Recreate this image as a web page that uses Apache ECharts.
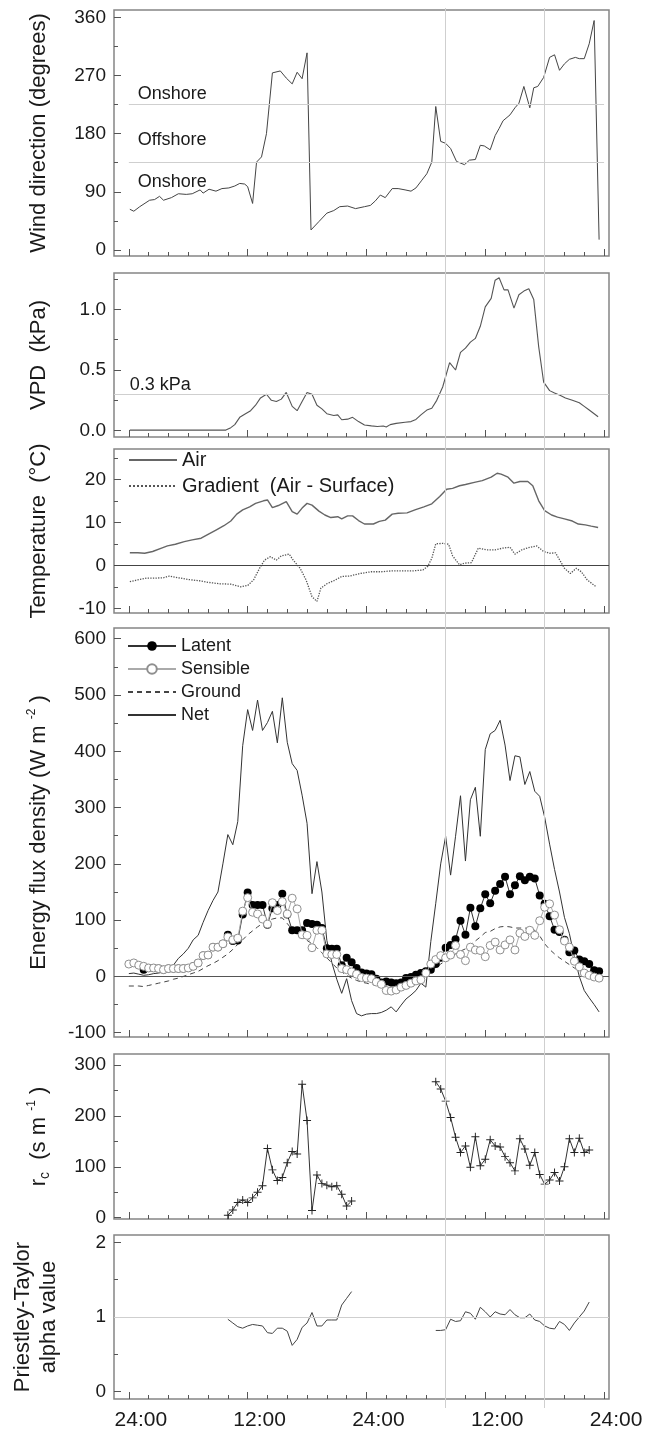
<!DOCTYPE html>
<html><head><meta charset="utf-8">
<script src="https://cdn.jsdelivr.net/npm/echarts@6/dist/echarts.min.js"></script>
<style>html,body{margin:0;padding:0;background:#fff}#c{width:657px;height:1433px}</style>
</head><body><div id="c"></div>
<script>
// ---------------- DATA ----------------
const xTickMajor = [0, 12, 24, 36, 48];
const xTickLabels = ['24:00', '12:00', '24:00', '12:00', '24:00'];
const xTickMinor = [2,4,6,8,10,14,16,18,20,22,26,28,30,32,34,38,40,42,44,46];
const refHours = [32, 42];

// Wind direction (degrees)
const windHours = [0.1,0.5,1.1,2.1,2.6,3.1,3.5,4.3,5.0,5.8,6.4,7.2,7.5,8.1,8.8,9.4,10.1,10.7,11.2,11.7,12.0,12.5,12.9,13.4,13.9,14.5,15.3,15.9,16.5,17.0,17.5,18.0,18.4,19.2,20.0,20.7,21.3,22.1,22.9,23.8,24.4,24.9,25.4,25.9,26.6,27.2,27.9,28.5,29.0,29.6,30.1,30.6,31.0,31.5,32.0,32.5,33.1,33.9,34.4,35.0,35.5,35.9,36.5,37.0,37.4,37.8,38.5,39.0,39.4,39.9,40.5,40.9,41.3,41.9,42.5,43.0,43.5,44.0,44.5,45.1,45.5,46.0,46.5,47.0,47.5];
const windDir = [63,60,67,77,78,83,77,81,87,86,87,93,88,94,91,95,96,99,103,102,98,72,136,144,180,274,277,266,257,275,265,305,31,44,57,61,67,68,64,67,69,76,85,81,95,95,93,91,96,108,118,136,222,168,165,157,137,132,139,140,162,161,155,177,188,200,209,220,227,253,220,251,253,267,298,302,278,288,295,298,296,296,319,355,16];
const windRefLines = [135, 225];
const windNotes = ['Onshore', 'Offshore', 'Onshore'];
const windNoteX = [0.9, 0.9, 0.9];
const windNoteY = [242, 170, 105];

// VPD (kPa)
const vpdHours = [0.1,9.8,10.3,10.7,11.2,11.7,12.3,12.8,13.3,13.9,14.4,14.9,15.4,15.9,16.5,17.0,17.5,18.0,18.5,19.0,19.5,20.0,20.7,21.1,21.5,22.1,22.6,23.2,23.8,24.5,25.1,25.7,26.0,26.4,27.0,27.9,28.5,29.0,29.5,30.1,30.6,31.1,31.7,32.4,33.0,33.5,34.0,34.5,35.0,35.5,36.0,36.6,37.0,37.4,37.9,38.3,38.9,39.4,39.9,40.4,40.9,41.4,41.9,42.5,43.0,43.6,44.1,44.8,45.5,46.0,46.5,47.4];
const vpd = [0.005,0.005,0.025,0.05,0.11,0.135,0.165,0.21,0.27,0.30,0.25,0.24,0.26,0.315,0.20,0.165,0.24,0.315,0.30,0.21,0.18,0.14,0.125,0.13,0.09,0.095,0.11,0.075,0.047,0.04,0.035,0.038,0.03,0.05,0.06,0.07,0.075,0.093,0.13,0.17,0.185,0.25,0.36,0.56,0.50,0.645,0.68,0.73,0.76,0.86,1.02,1.09,1.24,1.26,1.16,1.16,1.01,1.12,1.15,1.17,1.08,0.69,0.40,0.33,0.31,0.29,0.27,0.25,0.23,0.20,0.17,0.115];
const vpdRefLine = 0.3;
const vpdNote = '0.3 kPa';
const vpdNoteX = 0.1;
const vpdNoteY = 0.38;

// Temperature (°C)
const airHours = [0.1,0.9,1.6,2.4,3.3,3.9,4.7,5.6,6.4,7.3,8.0,8.8,9.6,10.3,10.9,11.5,12.2,12.8,13.6,14.0,14.5,15.1,15.9,16.5,17.0,17.5,18.0,18.5,19.2,19.8,20.4,21.1,21.5,22.1,22.6,23.2,23.8,24.7,25.3,25.9,26.6,27.2,28.1,28.9,29.8,30.6,31.4,32.1,32.7,33.4,34.0,34.9,35.7,36.6,37.2,37.6,38.3,38.9,39.5,40.3,40.8,41.4,42.0,42.7,43.3,44.0,44.8,45.4,46.1,46.7,47.4];
const airTemp = [2.9,2.9,2.8,3.2,4.0,4.5,4.9,5.5,5.9,6.3,7.2,8.2,9.2,10.3,11.9,12.9,13.6,14.4,15.0,15.2,13.4,13.9,14.8,12.5,11.9,13.3,14.4,14.0,12.6,11.7,11.1,11.3,10.8,11.5,11.5,10.4,9.6,9.6,10.2,10.5,11.9,12.1,12.2,12.9,13.6,14.3,16.0,17.7,17.9,18.5,18.8,19.3,19.7,20.5,21.4,21.2,20.5,19.1,19.5,19.5,18.5,15.0,12.7,11.7,11.2,10.8,10.3,9.6,9.4,9.1,8.8];
const gradHours = [0.1,0.9,1.8,2.6,3.5,4.1,5.0,6.0,7.1,8.1,9.2,10.3,11.3,12.0,12.6,13.2,13.7,14.3,14.9,15.4,16.2,16.6,17.3,17.9,18.5,19.0,19.4,20.0,20.7,21.5,22.3,23.4,24.5,25.5,26.6,27.7,28.7,29.7,30.2,30.6,31.0,31.7,32.3,32.7,33.4,33.9,34.6,35.3,36.1,37.0,37.8,38.5,39.0,39.7,40.5,41.2,41.9,42.5,43.1,44.0,44.6,45.2,45.7,46.3,47.2];
const gradTemp = [-3.8,-3.4,-3.0,-3.0,-2.9,-2.5,-2.9,-3.3,-3.6,-4.0,-4.3,-4.4,-5.0,-4.7,-3.4,-0.7,1.2,2.0,1.2,2.2,2.6,1.2,-0.7,-3.4,-7.3,-8.4,-5.3,-4.3,-3.6,-2.6,-2.5,-1.9,-1.5,-1.5,-1.3,-1.3,-1.3,-1.1,-0.2,1.6,5.0,5.1,4.9,2.2,0.1,0.5,0.6,4.0,3.6,3.6,4.0,4.2,2.6,3.6,4.2,4.5,3.2,2.8,2.9,-0.7,-1.9,-0.7,-1.5,-3.4,-5.0];

// Energy flux density (W m-2), half-hourly
const fluxHours = [0,0.5,1,1.5,2,2.5,3,3.5,4,4.5,5,5.5,6,6.5,7,7.5,8,8.5,9,9.5,10,10.5,11,11.5,12,12.5,13,13.5,14,14.5,15,15.5,16,16.5,17,17.5,18,18.5,19,19.5,20,20.5,21,21.5,22,22.5,23,23.5,24,24.5,25,25.5,26,26.5,27,27.5,28,28.5,29,29.5,30,30.5,31,31.5,32,32.5,33,33.5,34,34.5,35,35.5,36,36.5,37,37.5,38,38.5,39,39.5,40,40.5,41,41.5,42,42.5,43,43.5,44,44.5,45,45.5,46,46.5,47,47.5];
const latent = [null,null,null,12,15,15,14,12,14,14,14,14,15,18,24,37,38,52,52,58,74,63,64,110,149,127,127,127,92,121,127,147,110,82,82,82,95,93,92,86,50,49,49,20,33,25,15,7,5,4,-4,-11,-9,-11,-12,-11,-3,-1,3,6,9,12,22,33,51,56,66,99,74,122,89,121,146,130,152,164,177,146,162,178,171,177,174,144,129,107,83,79,65,43,46,30,27,22,11,9];
const sensible = [22,24,20,18,15,15,14,12,14,14,14,14,15,18,24,37,38,52,52,58,70,65,68,116,140,114,111,102,93,131,117,133,111,139,120,74,73,51,82,82,40,39,39,14,12,8,4,-2,-3,-4,-10,-14,-25,-26,-24,-19,-16,-12,-8,-6,6,22,30,37,33,38,55,39,28,52,47,46,35,55,61,47,56,65,47,77,71,82,73,99,123,129,109,83,63,52,27,17,6,2,-1,-3];
const ground = [-17,-17,-17,-18,-16,-14,-12,-10,-8,-5,-3,0,3,6,9,14,19,23,28,34,40,48,57,65,74,81,88,94,99,102,104,104,94,83,73,68,64,58,51,42,33,24,15,8,2,-3,-7,-10,-12,-14,-16,-17,-18,-19,-19,-18,-17,-14,-10,-4,3,9,15,22,28,34,40,45,49,56,63,70,78,80,85,88,89,88,86,86,86,85,82,72,58,48,40,33,27,21,15,10,5,1,-2,-4];
const netRad = [5,6,4,2,3,5,6,8,12,20,32,40,50,65,73,96,117,135,150,200,252,234,275,410,474,437,491,437,451,471,415,495,416,378,366,322,272,147,204,150,64,25,-5,-30,-4,-43,-66,-70,-67,-66,-66,-64,-60,-54,-63,-51,-40,-33,-25,-12,-19,62,130,200,249,180,249,321,205,314,336,249,403,431,437,455,411,348,392,390,341,364,329,320,283,235,190,150,105,76,35,0,-25,-38,-50,-63];

// Canopy resistance rc (s m-1)
const rc1Hours = [10.0,10.5,11.0,11.5,12.0,12.5,13.0,13.5,14.0,14.5,15.0,15.5,16.0,16.5,17.0,17.5,18.0,18.5,19.0,19.5,20.0,20.5,21.0,21.5,22.0,22.5];
const rc1 = [5,15,30,35,30,39,50,63,136,94,73,79,108,130,125,262,191,14,84,67,64,61,63,46,23,33];
const rc2Hours = [31.0,31.5,32.0,32.5,33.0,33.5,34.0,34.5,35.0,35.5,36.0,36.5,37.0,37.5,38.0,38.5,39.0,39.5,40.0,40.5,41.0,41.5,42.0,42.5,43.0,43.5,44.0,44.5,45.0,45.5,46.0,46.5];
const rc2 = [267,253,229,197,158,128,141,99,159,102,115,153,141,139,120,108,92,155,135,103,128,85,66,74,89,72,100,155,128,156,128,133];

// Priestley-Taylor alpha
const pt1Hours = [10.0,10.5,11.0,11.5,12.0,12.5,13.0,13.5,14.0,14.5,15.0,15.5,16.0,16.5,17.0,17.5,18.0,18.5,19.0,19.5,20.0,20.5,21.0,21.5,22.0,22.5];
const pt1 = [0.97,0.92,0.87,0.85,0.88,0.90,0.89,0.88,0.79,0.78,0.85,0.85,0.81,0.62,0.70,0.86,0.92,1.06,0.88,0.88,0.96,0.96,0.96,1.16,1.25,1.34];
const pt2Hours = [31.0,31.5,32.0,32.5,33.0,33.5,34.0,34.5,35.0,35.5,36.0,36.5,37.0,37.5,38.0,38.5,39.0,39.5,40.0,40.5,41.0,41.5,42.0,42.5,43.0,43.5,44.0,44.5,45.0,45.5,46.0,46.5];
const pt2 = [0.82,0.82,0.83,0.97,0.94,0.95,1.07,1.05,0.97,1.13,1.07,1.00,1.07,1.04,1.03,1.10,1.03,0.99,0.99,1.04,0.96,0.94,0.88,0.85,0.84,0.94,0.90,0.82,0.92,1.00,1.08,1.20];
const ptRefLine = 1;

// ---------------- CHART ----------------
const FONT = "'Liberation Sans', Arial, sans-serif";
const TXT = '#1a1a1a';
const X_MIN = -1.5, X_MAX = 48.5;
const zip = (xs, ys) => xs.map((x, k) => [x, ys[k]]);

const panels = [
  {top: 10, height: 246, min: -9.3, max: 371.3, major: [0,90,180,270,360], minor: [45,135,225,315],
   fmt: v => String(v), name: 'Wind direction (degrees)', gap: 62},
  {top: 273, height: 164, min: -0.052, max: 1.299, major: [0,0.5,1.0], minor: [0.25,0.75,1.25],
   fmt: v => v.toFixed(1), name: 'VPD  (kPa)', gap: 62},
  {top: 449, height: 164, min: -11.1, max: 27.05, major: [-10,0,10,20], minor: [-5,5,15,25],
   fmt: v => String(v), name: 'Temperature  (°C)', gap: 62},
  {top: 628, height: 409, min: -107.6, max: 619, major: [-100,0,100,200,300,400,500,600], minor: [-50,50,150,250,350,450,550],
   fmt: v => String(v), name: '{a|Energy flux density (W m }{s|-2}{a| )}', gap: 62},
  {top: 1054, height: 165, min: -2.5, max: 321.6, major: [0,100,200,300], minor: [50,150,250],
   fmt: v => String(v), name: '{a|r}{b|c}{a|  (s m }{s|-1}{a| )}', gap: 62},
  {top: 1235, height: 164, min: -0.098, max: 2.098, major: [0,1,2], minor: [0.5,1.5],
   fmt: v => String(v), name: 'Priestley-Taylor\nalpha value', gap: 52}
];

const grids = [], xAxes = [], yAxes = [];
const tickStyle = {color: '#555', width: 1};
panels.forEach((p, i) => {
  grids.push({left: 114, width: 495, top: p.top, height: p.height, show: true,
    borderColor: '#858585', borderWidth: 1.5, backgroundColor: 'transparent'});
  xAxes.push({gridIndex: i, type: 'value', position: 'bottom', min: X_MIN, max: X_MAX,
    axisLine: {show: false, onZero: false}, splitLine: {show: false},
    axisTick: {show: true, inside: true, length: 7, customValues: xTickMajor, lineStyle: tickStyle},
    axisLabel: {show: i === 5, customValues: xTickMajor, formatter: v => xTickLabels[xTickMajor.indexOf(v)],
      fontSize: 21, color: TXT, fontFamily: FONT, margin: 11, padding: [0, 0, 0, 24]}});
  xAxes.push({gridIndex: i, type: 'value', position: 'bottom', min: X_MIN, max: X_MAX,
    axisLine: {show: false, onZero: false}, splitLine: {show: false},
    axisTick: {show: true, inside: true, length: 4, customValues: xTickMinor, lineStyle: tickStyle},
    axisLabel: {show: false}});
  yAxes.push({gridIndex: i, type: 'value', position: 'left', min: p.min, max: p.max,
    axisLine: {show: false, onZero: false}, splitLine: {show: false},
    axisTick: {show: true, inside: true, length: 7, customValues: p.major, lineStyle: tickStyle},
    axisLabel: {customValues: p.major, formatter: p.fmt, fontSize: 19, color: TXT, fontFamily: FONT, margin: 8},
    name: p.name, nameLocation: 'middle', nameGap: p.gap, nameRotate: 90,
    nameTextStyle: {fontSize: 22, color: TXT, fontFamily: FONT, lineHeight: 26,
      rich: {a: {fontSize: 22, color: TXT, fontFamily: FONT},
             s: {fontSize: 12, color: TXT, fontFamily: FONT, verticalAlign: 'top'},
             b: {fontSize: 14, color: TXT, fontFamily: FONT, verticalAlign: 'bottom'}}}});
  yAxes.push({gridIndex: i, type: 'value', position: 'left', min: p.min, max: p.max,
    axisLine: {show: false, onZero: false}, splitLine: {show: false},
    axisTick: {show: true, inside: true, length: 4, customValues: p.minor, lineStyle: tickStyle},
    axisLabel: {show: false}});
});
// overlay grid for vertical reference lines spanning all panels
grids.push({left: 114, width: 495, top: 8, height: 1400, show: false});
xAxes.push({gridIndex: 6, type: 'value', min: X_MIN, max: X_MAX, show: false});
yAxes.push({gridIndex: 6, type: 'value', min: 0, max: 1, show: false});

const refLineStyle = {color: '#cfcfcf', width: 1, type: 'solid'};
const mk = (data, style) => ({silent: true, symbol: 'none', label: {show: false}, lineStyle: style, data: data, animation: false});
const lineBase = (name, xi, data, color, width, extra) => Object.assign({
  name: name, type: 'line', xAxisIndex: xi * 2, yAxisIndex: xi * 2, data: data,
  showSymbol: false, symbol: 'none', lineStyle: {color: color, width: width}, itemStyle: {color: color}, z: 3
}, extra || {});
const noteLabel = {show: true, formatter: '{b}', position: 'right', distance: 0, fontSize: 18, color: TXT, fontFamily: FONT, opacity: 1};

const series = [
  // vertical reference lines
  {type: 'scatter', xAxisIndex: 12, yAxisIndex: 12, data: refHours.map(h => [h, 0]), symbolSize: 0, z: 1,
   markLine: mk(refHours.map(h => ({xAxis: h})), refLineStyle)},
  // wind
  {type: 'scatter', xAxisIndex: 0, yAxisIndex: 0, symbolSize: 0, z: 1,
   data: windNotes.map((t, k) => ({name: t, value: [windNoteX[k], windNoteY[k]]})),
   label: noteLabel, emphasis: {disabled: true},
   markLine: mk(windRefLines.map(v => [{coord: [0, v]}, {coord: [48, v]}]), refLineStyle)},
  lineBase('Wind', 0, zip(windHours, windDir), '#444', 1),
  // VPD
  {type: 'scatter', xAxisIndex: 2, yAxisIndex: 2, symbolSize: 0, z: 1,
   data: [{name: vpdNote, value: [vpdNoteX, vpdNoteY]}],
   label: noteLabel, emphasis: {disabled: true},
   markLine: mk([{yAxis: vpdRefLine}], refLineStyle)},
  lineBase('VPD', 1, zip(vpdHours, vpd), '#555', 1.1),
  // temperature
  lineBase('Air', 2, zip(airHours, airTemp), '#666', 1.4,
    {markLine: mk([{yAxis: 0}], {color: '#444', width: 1.2, type: 'solid'})}),
  lineBase('Gradient  (Air - Surface)', 2, zip(gradHours, gradTemp), '#555', 1.3,
    {lineStyle: {color: '#555', width: 1.3, type: 'dotted'}}),
  // energy
  lineBase('Net', 3, zip(fluxHours, netRad), '#333', 1,
    {markLine: mk([{yAxis: 0}], {color: '#555', width: 1.2, type: 'solid'})}),
  lineBase('Ground', 3, zip(fluxHours, ground), '#444', 1,
    {lineStyle: {color: '#444', width: 1, type: [5, 4]}}),
  lineBase('Latent', 3, zip(fluxHours, latent), '#333', 1,
    {showSymbol: true, showAllSymbol: true, symbol: 'circle', symbolSize: 8, itemStyle: {color: '#000'}, z: 4}),
  lineBase('Sensible', 3, zip(fluxHours, sensible), '#aaa', 1,
    {showSymbol: true, showAllSymbol: true, symbol: 'circle', symbolSize: 8,
     itemStyle: {color: '#fff', borderColor: '#8f8f8f', borderWidth: 1}, z: 5}),
  // rc
  lineBase('rc1', 4, zip(rc1Hours, rc1), '#333', 1,
    {showSymbol: true, showAllSymbol: true, symbol: 'path://M4.4,0H5.6V4.4H10V5.6H5.6V10H4.4V5.6H0V4.4H4.4Z', symbolSize: 8, itemStyle: {color: '#222'}}),
  lineBase('rc2', 4, zip(rc2Hours, rc2), '#333', 1,
    {showSymbol: true, showAllSymbol: true, symbol: 'path://M4.4,0H5.6V4.4H10V5.6H5.6V10H4.4V5.6H0V4.4H4.4Z', symbolSize: 8, itemStyle: {color: '#222'}}),
  // Priestley-Taylor
  lineBase('pt1', 5, zip(pt1Hours, pt1), '#444', 1,
    {markLine: mk([{yAxis: ptRefLine}], refLineStyle)}),
  lineBase('pt2', 5, zip(pt2Hours, pt2), '#444', 1)
];

const legendText = {fontSize: 18, color: TXT, fontFamily: FONT, lineHeight: 18};
const option = {
  animation: false,
  backgroundColor: '#fff',
  grid: grids, xAxis: xAxes, yAxis: yAxes, series: series,
  legend: [
    {data: [{name: 'Air', itemStyle: {opacity: 0}}, {name: 'Gradient  (Air - Surface)', itemStyle: {opacity: 0}}],
     orient: 'vertical', left: 128, top: 450, padding: 0, itemWidth: 48, itemHeight: 14, itemGap: 6,
     selectedMode: false, textStyle: Object.assign({}, legendText, {fontSize: 20, lineHeight: 20})},
    {data: ['Latent', 'Sensible', {name: 'Ground', itemStyle: {opacity: 0}}, {name: 'Net', itemStyle: {opacity: 0}}],
     orient: 'vertical', left: 127, top: 637, padding: 0, itemWidth: 48, itemHeight: 12, itemGap: 5,
     selectedMode: false, textStyle: legendText}
  ]
};
const chart = echarts.init(document.getElementById('c'), null, {renderer: 'canvas'});
chart.setOption(option);
</script></body></html>
